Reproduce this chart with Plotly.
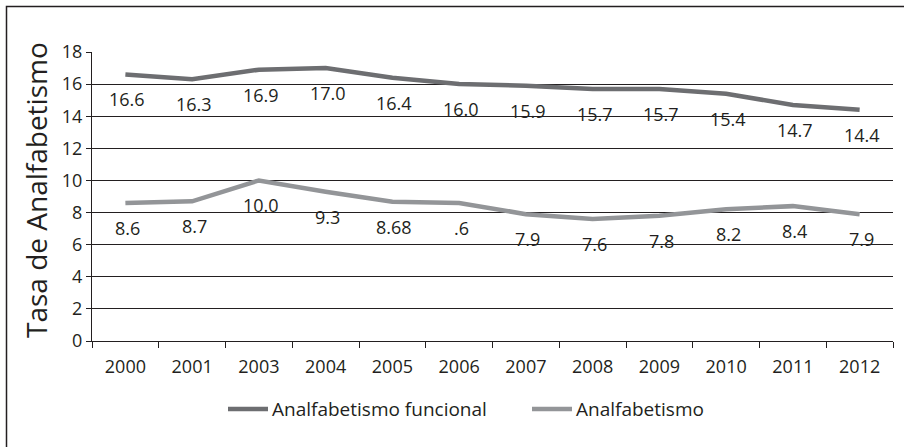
import plotly.graph_objects as go

# Years on the category axis (2002 is not reported)
years = ["2000", "2001", "2003", "2004", "2005", "2006",
         "2007", "2008", "2009", "2010", "2011", "2012"]

# Functional illiteracy rate (%)
funcional = [16.6, 16.3, 16.9, 17.0, 16.4, 16.0, 15.9, 15.7, 15.7, 15.4, 14.7, 14.4]
funcional_labels = ["16.6", "16.3", "16.9", "17.0", "16.4", "16.0",
                    "15.9", "15.7", "15.7", "15.4", "14.7", "14.4"]

# Illiteracy rate (%)
analfabetismo = [8.6, 8.7, 10.0, 9.3, 8.68, 8.6, 7.9, 7.6, 7.8, 8.2, 8.4, 7.9]
analfabetismo_labels = ["8.6", "8.7", "10.0", "9.3", "8.68", ".6",
                        "7.9", "7.6", "7.8", "8.2", "8.4", "7.9"]

y_ticks = [0, 2, 4, 6, 8, 10, 12, 14, 16, 18]

series_names = ["Analfabetismo funcional", "Analfabetismo"]

FONT = "Open Sans"
TEXT = "#231f20"
DARK = "#6d6e71"
LIGHT = "#939598"

# Plot-area geometry in pixels, used to place items outside the axes
W, H = 904, 447
L, R, T, B = 92, 11, 52, 106
PW, PH = W - L - R, H - T - B


def px_x(px):
    return (px - L) / PW


def px_y(py):
    return (H - B - py) / PH


fig = go.Figure()
fig.add_trace(go.Scatter(x=years, y=funcional, mode="lines",
                         name=series_names[0], showlegend=False,
                         line=dict(color=DARK, width=4.5)))
fig.add_trace(go.Scatter(x=years, y=analfabetismo, mode="lines",
                         name=series_names[1], showlegend=False,
                         line=dict(color=LIGHT, width=4.5)))

# Value labels sit a little below each point (x given as category index)
annotations = []
for ys, labels in [(funcional, funcional_labels),
                   (analfabetismo, analfabetismo_labels)]:
    for i, (y, t) in enumerate(zip(ys, labels)):
        annotations.append(dict(x=i, y=y, text=t, showarrow=False,
                                xref="x", yref="y", yshift=-25, xshift=2,
                                font=dict(family=FONT, size=18, color=TEXT)))

# Y-axis title
annotations.append(dict(x=px_x(36), y=px_y(190), xref="paper", yref="paper",
                        text="Tasa de Analfabetismo", textangle=-90,
                        showarrow=False, xanchor="center", yanchor="middle",
                        font=dict(family=FONT, size=28, color=TEXT)))

# Legend: a 40 px line sample followed by the series name
shapes = [dict(type="rect", xref="paper", yref="paper",
               x0=px_x(6.5), x1=px_x(W + 20), y0=px_y(H + 20), y1=px_y(6.5),
               line=dict(color=TEXT, width=1.5))]
legend_y = 409
for name, color, x_line in [(series_names[0], DARK, 228),
                            (series_names[1], LIGHT, 532)]:
    shapes.append(dict(type="line", xref="paper", yref="paper",
                       x0=px_x(x_line), x1=px_x(x_line + 40),
                       y0=px_y(legend_y), y1=px_y(legend_y),
                       line=dict(color=color, width=4.5)))
    annotations.append(dict(x=px_x(x_line + 42), y=px_y(legend_y),
                            xref="paper", yref="paper", text=name,
                            showarrow=False, xanchor="left", yanchor="middle",
                            font=dict(family=FONT, size=19, color=TEXT)))

fig.update_layout(
    width=W, height=H,
    margin=dict(l=L, r=R, t=T, b=B),
    paper_bgcolor="white", plot_bgcolor="white",
    font=dict(family=FONT, size=18, color=TEXT),
    showlegend=False,
    annotations=annotations,
    shapes=shapes,
)

fig.update_xaxes(type="category", range=[-0.5, len(years) - 0.5], showgrid=False,
                 showline=True, linecolor=TEXT, linewidth=1.2,
                 ticks="outside", tickson="boundaries", ticklen=6,
                 tickcolor=TEXT, tickwidth=1.2, ticklabelstandoff=9,
                 tickfont=dict(family=FONT, size=18, color=TEXT))
fig.update_yaxes(range=[0, 18], tickvals=y_ticks,
                 showgrid=True, gridcolor=TEXT, gridwidth=1.2,
                 zeroline=False,
                 showline=True, linecolor=TEXT, linewidth=1.2,
                 ticks="outside", ticklen=5, tickcolor=TEXT, tickwidth=1.2,
                 tickfont=dict(family=FONT, size=18, color=TEXT))

fig.write_html("out.html")
